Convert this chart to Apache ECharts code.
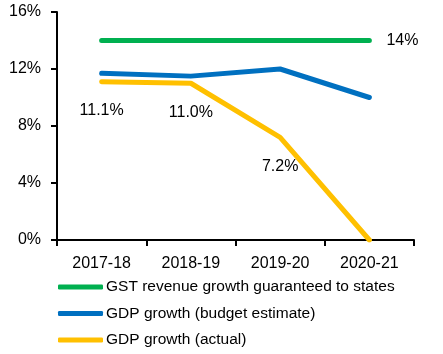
<!DOCTYPE html>
<html>
<head>
<meta charset="utf-8">
<script src="https://cdn.jsdelivr.net/npm/echarts@6/dist/echarts.min.js"></script>
<style>html,body{margin:0;padding:0;background:#fff;}#c{width:443px;height:354px;}</style>
</head>
<body>
<div id="c"></div>
<script>
const categories = ['2017-18', '2018-19', '2019-20', '2020-21'];
const gstGuaranteed = [14, 14, 14, 14];
const gdpBudget = [11.7, 11.5, 12.0, 10.0];
const gdpActual = [11.1, 11.0, 7.2, 0];
const yTicks = [0, 4, 8, 12, 16];
const seriesNames = ['GST revenue growth guaranteed to states', 'GDP growth (budget estimate)', 'GDP growth (actual)'];

const font = "'Liberation Sans', Arial, sans-serif";
const chart = echarts.init(document.getElementById('c'), null, {renderer: 'canvas'});
chart.setOption({
  animation: false,
  backgroundColor: '#fff',
  textStyle: {fontFamily: font},
  grid: {left: 57, right: 29, top: 12, bottom: 114},
  legend: {
    orient: 'vertical', left: 58, top: 279, padding: 0, itemWidth: 45, itemHeight: 5, itemGap: 10.5,
    height: 80,
    icon: 'roundRect',
    textStyle: {fontFamily: font, fontSize: 15.5, color: '#000', padding: [0, 0, 0, -2]},
    data: seriesNames
  },
  xAxis: {
    type: 'category', data: categories, boundaryGap: true,
    axisLine: {lineStyle: {color: '#000', width: 2}},
    axisTick: {show: true, length: 6, lineStyle: {color: '#000', width: 2}},
    axisLabel: {fontFamily: font, fontSize: 16, color: '#000', margin: 16}
  },
  yAxis: {
    type: 'value', min: 0, max: 16, interval: 4,
    splitLine: {show: false},
    axisLine: {show: true, lineStyle: {color: '#000', width: 2}},
    axisTick: {show: true, length: 6, lineStyle: {color: '#000', width: 2}},
    axisLabel: {fontFamily: font, fontSize: 16, color: '#000', margin: 16,
      formatter: v => yTicks.includes(v) ? v + '%' : ''}
  },
  series: [
    {
      name: seriesNames[0], type: 'line', data: gstGuaranteed, showSymbol: true, symbol: 'circle', symbolSize: 0.01,
      lineStyle: {color: '#00B050', width: 5, cap: 'round'}, itemStyle: {color: '#00B050'},
      label: {show: true, position: 'right', distance: 17, fontFamily: font, fontSize: 16, color: '#000',
        formatter: p => p.dataIndex === gstGuaranteed.length - 1 ? p.value + '%' : ''}
    },
    {
      name: seriesNames[1], type: 'line', data: gdpBudget, showSymbol: false, symbol: 'none',
      lineStyle: {color: '#0070C0', width: 5, cap: 'round', join: 'round'}, itemStyle: {color: '#0070C0'}
    },
    {
      name: seriesNames[2], type: 'line', data: gdpActual, showSymbol: true, symbol: 'circle', symbolSize: 0.01,
      lineStyle: {color: '#FFC000', width: 5, cap: 'round', join: 'round'}, itemStyle: {color: '#FFC000'},
      label: {show: true, position: 'bottom', distance: 21, fontFamily: font, fontSize: 16, color: '#000',
        formatter: p => p.value > 0 ? p.value.toFixed(1) + '%' : ''}
    }
  ]
});
</script>
</body>
</html>
